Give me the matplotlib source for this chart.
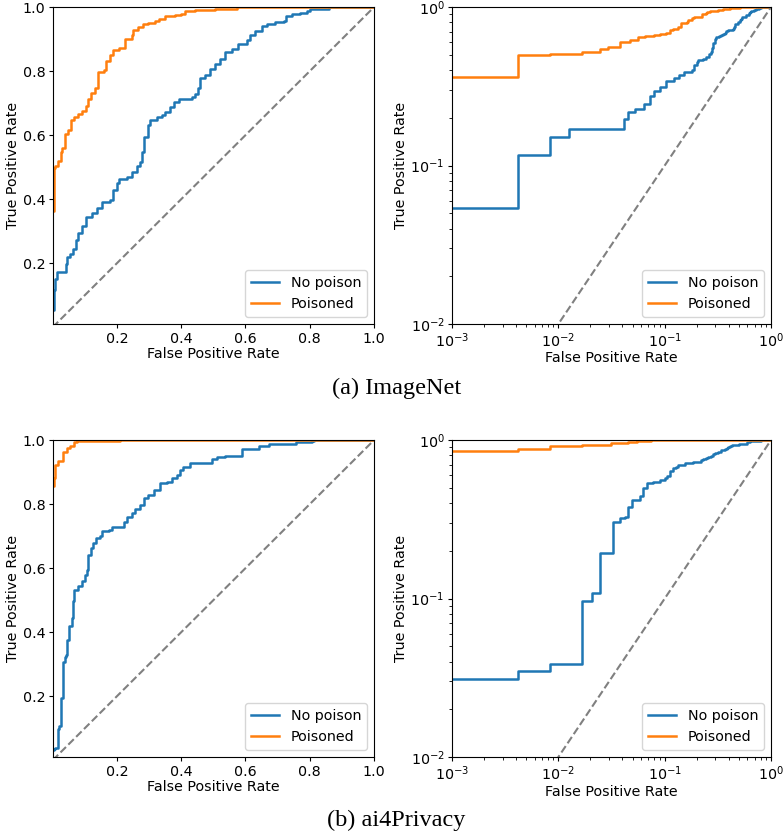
import matplotlib.pyplot as plt
import numpy as np

# ROC-Punkte (FPR, TPR)
imagenet_clean_fpr = [0, 0.0042, 0.0083, 0.0125, 0.041, 0.045, 0.053, 0.064, 0.072, 0.080,
                      0.090, 0.103, 0.122, 0.137, 0.153, 0.179, 0.187, 0.200, 0.207, 0.231,
                      0.246, 0.262, 0.272, 0.279, 0.285, 0.298, 0.303, 0.324, 0.340, 0.350,
                      0.366, 0.376, 0.392, 0.433, 0.443, 0.452, 0.459, 0.475, 0.491, 0.506,
                      0.522, 0.537, 0.558, 0.577, 0.605, 0.615, 0.631, 0.652, 0.667, 0.693,
                      0.719, 0.725, 0.745, 0.771, 0.792, 0.802, 0.860, 1.0]
imagenet_clean_tpr = [0.054, 0.116, 0.152, 0.171, 0.198, 0.218, 0.228, 0.244, 0.273, 0.294,
                      0.315, 0.344, 0.356, 0.372, 0.390, 0.398, 0.429, 0.452, 0.464, 0.470,
                      0.486, 0.504, 0.517, 0.548, 0.595, 0.631, 0.647, 0.657, 0.662, 0.673,
                      0.688, 0.704, 0.714, 0.720, 0.730, 0.746, 0.777, 0.787, 0.808, 0.823,
                      0.839, 0.860, 0.870, 0.886, 0.896, 0.912, 0.925, 0.940, 0.948, 0.953,
                      0.956, 0.971, 0.977, 0.981, 0.988, 0.995, 1.0, 1.0]

imagenet_pois_fpr = [0, 0.0042, 0.0084, 0.0166, 0.0248, 0.0296, 0.0376, 0.0474, 0.0567, 0.065,
                     0.080, 0.090, 0.103, 0.111, 0.120, 0.132, 0.142, 0.161, 0.165, 0.179,
                     0.189, 0.205, 0.224, 0.246, 0.250, 0.267, 0.281, 0.298, 0.319, 0.330,
                     0.350, 0.382, 0.400, 0.413, 0.444, 0.506, 0.574, 1.0]
imagenet_pois_tpr = [0.362, 0.496, 0.503, 0.520, 0.546, 0.560, 0.602, 0.616, 0.647, 0.656,
                     0.666, 0.676, 0.691, 0.714, 0.732, 0.746, 0.798, 0.803, 0.831, 0.849,
                     0.865, 0.872, 0.901, 0.912, 0.927, 0.938, 0.946, 0.950, 0.956, 0.964,
                     0.971, 0.974, 0.979, 0.988, 0.992, 0.995, 1.0, 1.0]

ai4_clean_fpr = [0, 0.0042, 0.0084, 0.0166, 0.0207, 0.0247, 0.033, 0.038, 0.0425, 0.0456,
                 0.0497, 0.0586, 0.063, 0.0676, 0.078, 0.090, 0.101, 0.106, 0.111, 0.120,
                 0.127, 0.134, 0.148, 0.155, 0.174, 0.184, 0.221, 0.231, 0.246, 0.257,
                 0.272, 0.283, 0.298, 0.314, 0.335, 0.356, 0.371, 0.387, 0.397, 0.407,
                 0.428, 0.496, 0.511, 0.537, 0.589, 0.641, 0.673, 0.756, 0.808, 0.813, 1.0]
ai4_clean_tpr = [0.031, 0.0347, 0.0386, 0.0966, 0.108, 0.193, 0.306, 0.321, 0.328, 0.376,
                 0.419, 0.444, 0.496, 0.533, 0.544, 0.560, 0.579, 0.595, 0.641, 0.662,
                 0.678, 0.693, 0.699, 0.715, 0.720, 0.730, 0.745, 0.761, 0.772, 0.784,
                 0.798, 0.818, 0.829, 0.844, 0.865, 0.870, 0.881, 0.891, 0.907, 0.917,
                 0.930, 0.940, 0.946, 0.950, 0.971, 0.981, 0.989, 0.994, 0.997, 1.0, 1.0]

ai4_pois_fpr = [0, 0.0042, 0.0084, 0.0166, 0.031, 0.045, 0.055, 0.065, 0.075, 0.21, 1.0]
ai4_pois_tpr = [0.857, 0.882, 0.921, 0.934, 0.964, 0.974, 0.983, 0.993, 0.998, 1.0, 1.0]

rows = [
    ('(a) ImageNet', imagenet_clean_fpr, imagenet_clean_tpr, imagenet_pois_fpr, imagenet_pois_tpr),
    ('(b) ai4Privacy', ai4_clean_fpr, ai4_clean_tpr, ai4_pois_fpr, ai4_pois_tpr),
]

plt.rcParams['font.size'] = 10.3
plt.rcParams['xtick.major.size'] = 3.2
plt.rcParams['ytick.major.size'] = 3.2
plt.rcParams['xtick.major.pad'] = 2.2
plt.rcParams['ytick.major.pad'] = 2.2

fig = plt.figure(figsize=(7.83, 8.34), dpi=100)

lefts = [0.0677, 0.5773]
widths = [0.41, 0.4074]
bottoms = [0.6115, 0.0923]
caption_y = [0.5348, 0.0168]
h = 0.380

for r, (caption, f0, t0, f1, t1) in enumerate(rows):
    for c in range(2):
        ax = fig.add_axes([lefts[c], bottoms[r], widths[c], h])
        ax.plot(f0, t0, drawstyle='steps-post', color='tab:blue', lw=1.8, label='No poison')
        ax.plot(f1, t1, drawstyle='steps-post', color='tab:orange', lw=1.8, label='Poisoned')
        ax.plot([0, 1], [0, 1], linestyle='--', color='gray', lw=1.5)
        if c == 1:
            ax.set_xscale('log')
            ax.set_yscale('log')
        ax.set_xlim(1e-3, 1)
        ax.set_ylim(1e-2, 1)
        ax.set_xlabel('False Positive Rate', labelpad=1)
        ax.set_ylabel('True Positive Rate', labelpad=2)
        ax.legend(loc='lower right')
    fig.text(0.506, caption_y[r], caption, ha='center', va='center',
             family='Liberation Serif', fontsize=17.5)

fig.savefig('out.png', dpi=100)
